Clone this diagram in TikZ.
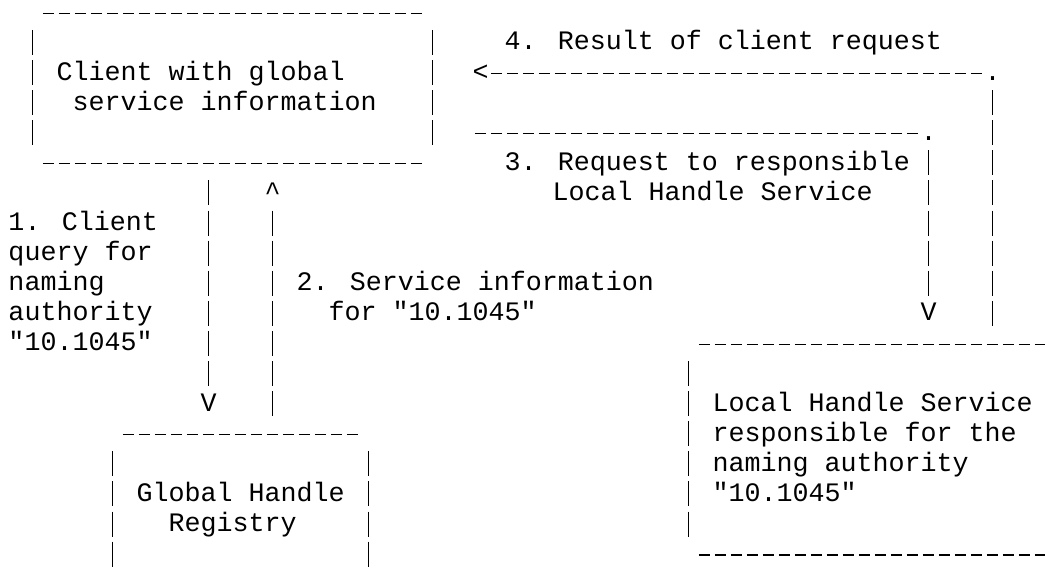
\documentclass[tikz,border=0pt]{standalone}
\usepackage{fontspec}
\newfontfamily\asciifont{Liberation Mono}
\newcommand{\hrow}[3]{\draw[hrun] (#1+0.15625,#3-0.216) -- (#2+0.84375,#3-0.216);}
\newcommand{\vcol}[3]{\draw[vrun] (#1+0.5,#2-0.664) -- (#1+0.5,#3+0.166);}

\begin{document}
\begin{tikzpicture}[x=16pt, y=-30.1pt,
    every node/.style={inner sep=0pt, anchor=base west, font=\asciifont\fontsize{26.67pt}{30.1pt}\selectfont},
    hrun/.style={line width=1.25pt, dash pattern=on 11pt off 5pt},
    vrun/.style={line width=1.25pt, dash pattern=on 25pt off 5.1pt}]
        \useasboundingbox (-0.51875,-0.6578) rectangle (64.79375,18.7442);

        \node (client) at (3,2) {Client with global};
        \node (client2) at (4,3) {service information};
        \hrow{2}{25}{0} \hrow{2}{25}{5}
        \vcol{1}{1}{4} \vcol{26}{1}{4}

        \node (registry) at (8,16) {Global Handle};
        \node (registry2) at (10,17) {Registry};
        \hrow{7}{21}{14}
        \vcol{6}{15}{18} \vcol{22}{15}{18}

        \node (local) at (44,13) {Local Handle Service};
        \node (local2) at (44,14) {responsible for the};
        \node (local3) at (44,15) {naming authority};
        \node (local4) at (44,16) {"10.1045"};
        \hrow{43}{64}{11} \hrow{43}{64}{18}
        \vcol{42}{12}{17}

        \node (q1) at (0,7) {1. Client};
        \node (q2) at (0,8) {query for};
        \node (q3) at (0,9) {naming};
        \node (q4) at (0,10) {authority};
        \node (q5) at (0,11) {"10.1045"};
        \node (info1) at (18,9) {2. Service information};
        \node (info2) at (20,10) {for "10.1045"};
        \node (req1) at (31,5) {3. Request to responsible};
        \node (req2) at (34,6) {Local Handle Service};
        \node (res) at (31,1) {4. Result of client request};

        \node (q-tip) at (12,13) {V};
        \coordinate (q-from) at (12.5,5.336);
        \coordinate (q-to) at (12.5,12.166);
        \draw[vrun] (q-from) -- (q-to);

        \node (info-tip) at (16,6) {\textasciicircum};
        \coordinate (info-from) at (16.5,13.166);
        \coordinate (info-to) at (16.5,6.336);
        \draw[vrun] (info-to) -- (info-from);

        \node (req-corner) at (57,4) {.};
        \node (req-tip) at (57,10) {V};
        \coordinate (req-from) at (29.15625,3.784);
        \coordinate (req-bend) at (56.84375,3.784);
        \coordinate (req-top) at (57.5,4.336);
        \coordinate (req-to) at (57.5,9.166);
        \draw[hrun] (req-from) -- (req-bend);
        \draw[vrun] (req-top) -- (req-to);

        \node (res-corner) at (61,2) {.};
        \node (res-tip) at (29,2) {<};
        \coordinate (res-from) at (61.5,10.166);
        \coordinate (res-top) at (61.5,2.336);
        \coordinate (res-bend) at (60.84375,1.784);
        \coordinate (res-to) at (30.15625,1.784);
        \draw[vrun] (res-top) -- (res-from);
        \draw[hrun] (res-to) -- (res-bend);
      \end{tikzpicture}
\end{document}
